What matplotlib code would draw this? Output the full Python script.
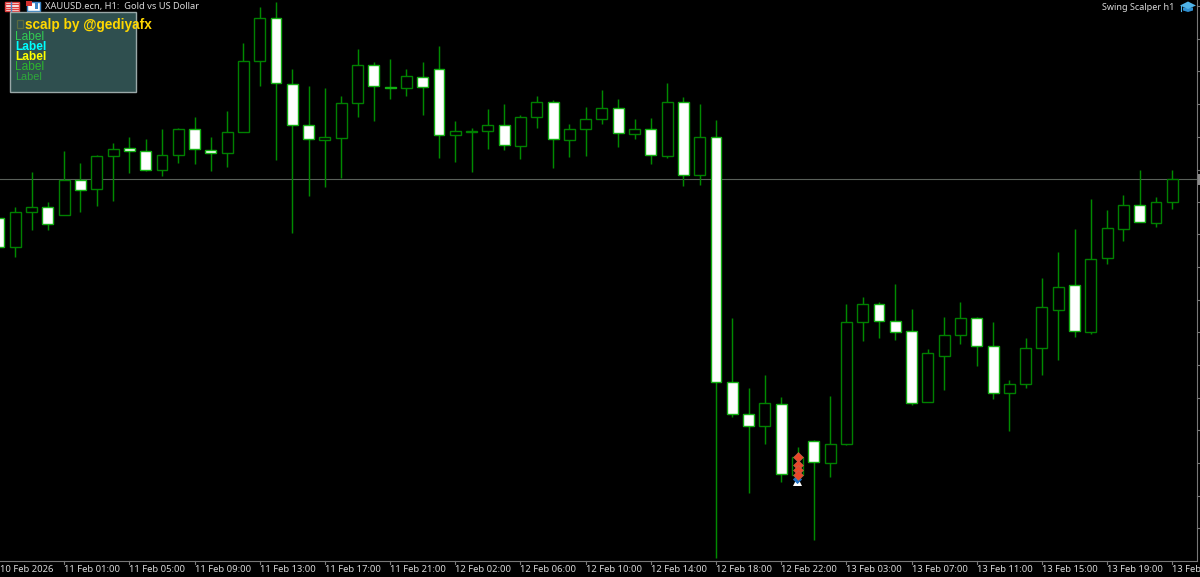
import matplotlib
matplotlib.use("Agg")
import matplotlib.pyplot as plt
from matplotlib.patches import Rectangle, Polygon

# Candle values, on the chart's vertical scale (larger = lower on screen)
body_top = [218,212.3,207.3,207.3,180,180.3,155.7,148.7,148.3,151.3,155.3,128.7,129,150.3,132.3,61.3,18.3,18.3,84.3,125,137,103,65.3,65.3,86.7,76.3,76.7,69,131.3,130.7,124.7,125,116.7,102.3,102,129.3,118.7,108,108,129.3,129.3,102.3,102.3,137,137,382.3,413.7,403.3,403.7,457,440.7,443.7,321.7,304.3,304.3,320.7,331.3,353.3,335.3,317.7,317.7,346.3,383.7,348.3,307.3,287.3,284.7,259.3,228.3,205.3,205.3,202.3,179.3]
body_bot = [246.7,247,212.3,224.3,215,190,189.3,156,151.3,169.7,169.7,155.3,148.7,152.7,153,132.3,61.3,83.3,124.7,139.3,140.3,138,103,86.3,87.7,87.7,87.3,135.3,135.3,132.3,131,145.3,145.7,116.7,139,139.7,129.3,118.7,133.3,134.3,155.3,155.7,174.7,174.7,382.3,413.7,426.3,426.3,473.7,474.7,462.3,463.3,444,321.7,320.7,331.7,402.7,402.3,356,335.3,346.3,393,392.7,383.7,348.3,309.7,331.3,331.7,257.7,228.7,222.3,222.7,202.3]
highs = [212,207,171.7,201.7,151,163,155,143.3,137,139,129.3,128,116.7,137.3,110.5,43,7.3,1.7,69.3,85.7,87.7,96.3,49.3,62.3,59.3,69,62,46,120.7,128.3,109.3,104.3,115.3,96.3,100.3,124,107.3,90.3,99,119.3,118.3,83.3,97,104.3,119.7,318,388.3,374.7,397.3,446.7,440,396.3,304,297.3,302.3,284,309,349.3,317.3,301.7,317.3,322,380,338,278.3,252.3,229.3,199.3,209.7,195.3,170.3,197,170.3]
lows = [248,256.7,229.7,229.7,215,211.7,206,201.3,172.7,171,175.7,162.7,163.7,171,167,132.3,85.7,160,233.3,195.7,186.7,177.7,117.3,120.7,98.7,96,115.3,157.7,161.7,172,149.3,149.7,159.3,127.7,167.7,157,155.7,123.7,147,139,164.3,158,186,185,557.7,417.3,493.3,444,481.7,483,540,476.7,445.3,341.3,337.7,339.7,404.7,402.3,390,343.7,366,399.3,431,387.7,374.7,359.7,337,333.7,263.7,241,222.3,227.3,208.7]
bearish = [1,0,0,1,0,1,0,0,1,1,0,0,1,1,0,0,0,1,1,1,0,0,0,1,1,0,1,1,0,0,0,1,0,0,1,0,0,0,1,0,1,0,1,0,1,1,1,0,1,0,1,0,0,0,1,1,1,0,0,0,1,1,0,0,0,0,1,0,0,0,1,0,0]

tick_bars = [4,8,12,16,20,24,28,32,36,40,44,48,52,56,60,64,68,72]
tick_labels = ["11 Feb 01:00","11 Feb 05:00","11 Feb 09:00","11 Feb 13:00","11 Feb 17:00","11 Feb 21:00",
               "12 Feb 02:00","12 Feb 06:00","12 Feb 10:00","12 Feb 14:00","12 Feb 18:00","12 Feb 22:00",
               "13 Feb 03:00","13 Feb 07:00","13 Feb 11:00","13 Feb 15:00","13 Feb 19:00","13 Feb"]
price_ticks = [6,39,71,104,137,170,202,234,267,300,332,365,398,430,463,496,528]
current_level = 179.3
signal_bar = 49
sell_levels = [457,465,469.7,475.3]
buy_level = 480
panel_rows = [("Label","#32cd52","normal",8.6,37),("Label","#00ffff","bold",8.6,47),("Label","#ffff00","bold",8.6,57),
              ("Label","#2db82d","normal",8.6,67),("Label","#2ea83a","normal",7.8,77)]

FONT = "Noto Sans"
fig = plt.figure(figsize=(12,5.77),dpi=100,facecolor="black")
bg = fig.add_axes([0,0,1,1],facecolor="black")   # pixel overlay for furniture
bg.set_xlim(0,1200); bg.set_ylim(577,0); bg.axis("off")
ax = fig.add_axes([0,0,1,1],facecolor="none")
ax.set_xlim(1/16.296,1201/16.296); ax.set_ylim(577,0); ax.axis("off")

xs = list(range(len(body_top)))
GREEN="#008a00"
# chart furniture
bg.plot([0,1197],[current_level]*2,color="#5a605a",lw=0.8,zorder=1)
bg.plot([1197,1197],[0,561],color="#777777",lw=0.8,zorder=1)
bg.plot([0,1197],[561,561],color="#777777",lw=0.8,zorder=1)
for p in price_ticks:
    bg.plot([1197,1200],[p,p],color="#777777",lw=0.8)
bg.add_patch(Rectangle((1198,173.5),2,11.5,facecolor="#8a8a8a",edgecolor="none"))

ax.vlines(xs,highs,lows,color=GREEN,lw=1.05,zorder=2)
for i in xs:
    white = bearish[i]
    ax.bar(i,body_bot[i]-body_top[i],bottom=body_top[i],width=0.67,
           facecolor="white" if white else "black",
           edgecolor="#12b012" if white else "#008000",lw=1.0,zorder=3)

for b,l in zip(tick_bars,tick_labels):
    ax.plot([b,b],[561,564],color="#777777",lw=0.8,clip_on=False)
    ax.text(b,569.5,l,color="#d8d8d8",fontsize=6.8,family=FONT,va="center",ha="left")
ax.text(0.08,569.5,"10 Feb 2026",color="#d8d8d8",fontsize=6.8,family=FONT,va="center",ha="left")

# signal arrows
ax.scatter([signal_bar],[buy_level+1.5],marker="^",s=42,color="white",edgecolor="none",zorder=5)
ax.scatter([signal_bar],[buy_level-0.5],marker="D",s=22,color="#1f6fc0",edgecolor="none",zorder=6)
ax.scatter([signal_bar]*len(sell_levels),sell_levels,marker="D",s=26,color="#e8472a",edgecolor="#b86a50",lw=0.4,zorder=7)

# info panel
bg.add_patch(Rectangle((10,11.5),126,80.5,facecolor="#2f4f4f",edgecolor="#9aa8a8",lw=1,zorder=8))
bg.add_patch(Rectangle((16.5,19.5),6.5,8,facecolor="none",edgecolor="#5a6a40",lw=0.9,zorder=9))
bg.text(25,24.5,"scalp by @gediyafx",color="#ffd700",fontsize=9.8,fontweight="bold",family="Liberation Sans",va="center",zorder=9)
for t,c,w,s,y in panel_rows:
    bg.text(15,y,t,color=c,fontsize=s,fontweight=w,family="Liberation Sans",va="center",zorder=9)

# header
bg.text(45,7,"XAUUSD.ecn, H1:  Gold vs US Dollar",color="#d8d8d8",fontsize=6.7,family=FONT,va="center")
bg.text(1174,7,"Swing Scalper h1",color="#d8d8d8",fontsize=6.5,family=FONT,va="center",ha="right")

# header icons
bg.add_patch(Rectangle((4.5,1.5),14,9.5,facecolor="white",edgecolor="#e04040",lw=1,zorder=4))
for yy in (4,6.5,9):
    bg.plot([6,17.5],[yy,yy],color="#e04040",lw=1,zorder=5)
bg.plot([11,11],[2,10.5],color="#4a7fc0",lw=1,zorder=5)
bg.add_patch(Rectangle((26.5,1.5),13,9.5,facecolor="white",edgecolor="#3a86c8",lw=1,zorder=4))
bg.add_patch(Rectangle((26,0.5),6,5,facecolor="#d03030",edgecolor="none",zorder=5))
bg.add_patch(Rectangle((34.5,2),3,7,facecolor="#3a86c8",edgecolor="none",zorder=5))
# cap icon
bg.add_patch(Polygon([(1180,5.5),(1188,1.5),(1196,5.5),(1188,9)],closed=True,facecolor="#4fb3e8",edgecolor="none",zorder=5))
bg.add_patch(Polygon([(1183,7.5),(1193,7.5),(1193,10.5),(1188,12),(1183,10.5)],closed=True,facecolor="#2f8fd0",edgecolor="none",zorder=4))
bg.plot([1181,1181],[6,11],color="#4fb3e8",lw=0.8,zorder=5)

fig.savefig("out.png",dpi=100,facecolor="black")
